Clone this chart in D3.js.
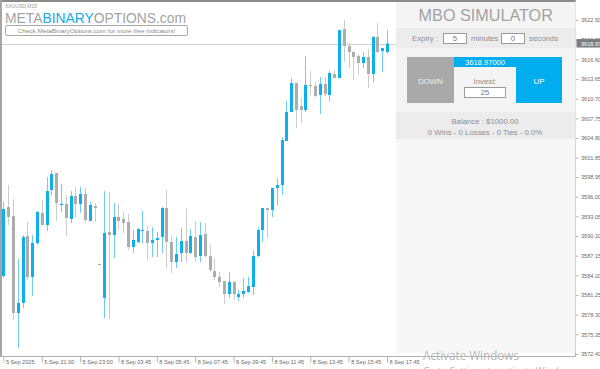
<!DOCTYPE html>
<html>
<head>
<meta charset="utf-8">
<script src="https://cdn.jsdelivr.net/npm/d3@7"></script>
<style>
  html, body { margin: 0; padding: 0; background: #fff; }
  svg { display: block; font-family: "Liberation Sans", Arial, sans-serif; }
</style>
</head>
<body>
<svg id="chart" width="600" height="369"></svg>
<script>
// XAUUSD M15 bars
const opens = [3584.10,3594.45,3593.10,3578.55,3580.05,3590.10,3583.95,3589.05,3593.55,3591.75,
  3597.00,3599.55,3594.75,3594.90,3592.65,3596.10,3594.90,3596.40,3592.35,3594.60,
  3585.90,3580.80,3590.70,3590.25,3592.95,3592.65,3592.20,3588.45,3589.20,3590.85,
  3590.85,3589.05,3589.50,3589.95,3594.30,3589.20,3586.20,3587.55,3589.35,3587.55,
  3589.95,3587.10,3590.40,3587.10,3584.85,3583.95,3583.35,3581.40,3583.20,3580.95,
  3581.40,3581.70,3582.45,3587.10,3591.00,3594.30,3594.00,3597.30,3597.75,3604.35,
  3608.70,3613.05,3609.60,3609.00,3612.75,3612.60,3611.25,3612.90,3611.25,3614.40,
  3613.80,3621.15,3618.60,3617.70,3617.10,3616.05,3616.95,3614.40,3619.95,3617.85,3617.70];
const highs = [3595.20,3597.75,3595.65,3586.65,3590.25,3592.20,3590.25,3593.85,3595.50,3598.95,
  3600.00,3599.55,3597.90,3596.25,3596.85,3597.45,3597.45,3597.30,3595.20,3595.05,
  3585.95,3596.85,3596.70,3595.05,3594.90,3593.70,3593.40,3591.00,3591.30,3593.85,
  3591.60,3591.45,3590.70,3594.45,3597.00,3590.10,3589.95,3591.30,3594.15,3591.15,
  3592.35,3592.20,3592.05,3588.75,3586.80,3584.70,3583.35,3584.70,3583.35,3582.00,
  3583.80,3583.95,3588.00,3591.45,3594.30,3594.30,3597.30,3598.80,3604.95,3610.35,
  3613.80,3613.05,3610.80,3617.10,3614.85,3613.20,3613.95,3613.95,3614.85,3615.00,
  3621.00,3622.50,3619.05,3617.85,3617.40,3617.70,3618.15,3620.10,3622.05,3618.30,3621.00];
const lows = [3583.80,3591.75,3577.50,3573.30,3579.30,3583.50,3581.10,3588.75,3591.75,3590.85,
  3596.25,3592.35,3593.70,3590.10,3592.05,3592.95,3593.55,3592.20,3592.35,3592.20,
  3585.85,3577.80,3577.65,3586.80,3591.00,3590.55,3588.00,3587.55,3589.05,3589.05,
  3586.50,3586.95,3586.95,3587.55,3585.30,3584.55,3585.30,3586.20,3586.20,3587.40,
  3586.20,3586.20,3586.95,3584.70,3583.50,3582.45,3579.90,3580.80,3580.50,3580.35,
  3580.80,3581.55,3581.25,3586.95,3589.20,3589.80,3592.95,3594.75,3596.25,3604.35,
  3608.70,3606.30,3607.05,3608.70,3611.25,3610.95,3608.40,3611.10,3610.35,3613.80,
  3613.80,3616.20,3615.30,3613.50,3614.40,3615.30,3612.30,3613.20,3617.55,3614.70,3617.40];
const closes = [3594.15,3592.95,3578.55,3580.05,3589.95,3583.95,3589.05,3593.70,3591.75,3596.85,
  3599.40,3595.05,3594.90,3592.80,3596.10,3594.90,3596.40,3592.50,3594.75,3594.30,
  3585.90,3590.55,3590.25,3592.95,3592.35,3592.05,3588.45,3589.50,3591.15,3591.00,
  3589.05,3589.50,3589.80,3594.30,3589.20,3586.20,3587.40,3589.35,3587.55,3590.10,
  3586.95,3590.25,3587.10,3585.00,3583.95,3583.20,3581.40,3583.20,3581.40,3581.40,
  3581.85,3582.60,3587.10,3591.00,3594.30,3594.00,3597.30,3597.75,3604.50,3608.70,
  3613.05,3609.00,3609.00,3612.75,3612.60,3611.10,3612.90,3611.40,3614.55,3613.80,
  3621.00,3618.60,3617.70,3616.95,3616.05,3616.95,3614.40,3619.95,3617.70,3618.30,3618.97];

const timeTickIdx = [0, 8, 16, 24, 32, 40, 48, 56, 64, 72, 80];
const timeTickLabels = ["5 Sep 2025", "5 Sep 21:00", "5 Sep 23:00", "8 Sep 03:45", "8 Sep 05:45",
  "8 Sep 07:45", "8 Sep 09:45", "8 Sep 11:45", "8 Sep 13:45", "8 Sep 15:45", "8 Sep 17:45"];
const priceTickLabels = ["3622.50", "3619.55", "3616.60", "3613.65", "3610.70", "3607.75",
  "3604.80", "3601.85", "3598.95", "3596.00", "3593.05", "3590.10", "3587.15", "3584.20",
  "3581.25", "3578.30", "3575.35", "3572.40"];
const bidPrice = 3618.97;

const bars = opens.map((o, i) => ({ i, o, h: highs[i], l: lows[i], c: closes[i] }));

const svg = d3.select("#chart");
const W = 600, H = 369;
const plotRight = 575.5, plotBottom = 356.5;

const x = d3.scaleLinear().domain([0, opens.length - 1]).range([3.4, 387]);
const y = d3.scaleLinear().domain([3572.40, 3622.50]).range([354, 20]);

const blue = "#0db0ec", blueWick = "#6fcdf2";
const grey = "#adadad", greyWick = "#cccccc";

svg.append("rect").attr("width", W).attr("height", H).attr("fill", "#fff");

// bid line behind the bars
svg.append("line")
  .attr("x1", 0).attr("x2", plotRight)
  .attr("y1", Math.round(y(bidPrice)) + 0.5).attr("y2", Math.round(y(bidPrice)) + 0.5)
  .attr("stroke", "#d2d2d2");

// candles
const candle = svg.append("g").selectAll("g").data(bars).enter().append("g");
candle.append("line")
  .attr("x1", d => Math.round(x(d.i)) + 0.5).attr("x2", d => Math.round(x(d.i)) + 0.5)
  .attr("y1", d => y(d.h)).attr("y2", d => y(d.l))
  .attr("stroke", d => d.c > d.o ? blueWick : greyWick);
candle.append("rect")
  .attr("x", d => Math.round(x(d.i)) - 1)
  .attr("y", d => y(Math.max(d.o, d.c)))
  .attr("width", 3)
  .attr("height", d => Math.max(1, Math.abs(y(d.o) - y(d.c))))
  .attr("fill", d => d.c > d.o ? blue : grey);

// frame
svg.append("rect").attr("x", 0).attr("y", 0).attr("width", plotRight).attr("height", 2).attr("fill", "#8a8a8a");
svg.append("rect").attr("x", 0).attr("y", 0).attr("width", 2).attr("height", plotBottom).attr("fill", "#a5a5a5");

// time axis
const xAxis = d3.axisBottom(x).tickValues(timeTickIdx).tickFormat((d, k) => timeTickLabels[k]).tickSize(6).tickSizeOuter(0);
const gx = svg.append("g").attr("transform", `translate(0,${plotBottom})`).call(xAxis);
gx.select(".domain").remove();
gx.selectAll(".tick line").attr("stroke", "#b5b5b5");
gx.selectAll(".tick text")
  .attr("text-anchor", "start").attr("x", 2).attr("y", 4).attr("dy", "0.71em")
  .attr("fill", "#6a6a6a").style("font-size", "5.6px").style("font-family", "Liberation Sans, Arial, sans-serif");
svg.append("line").attr("x1", 0).attr("x2", plotRight).attr("y1", plotBottom).attr("y2", plotBottom).attr("stroke", "#b0b0b0");

// price axis
const yAxis = d3.axisRight(y).tickValues(priceTickLabels.map(Number)).tickFormat((d, k) => priceTickLabels[k]).tickSize(3).tickSizeOuter(0);
const gy = svg.append("g").attr("transform", `translate(${plotRight},0)`).call(yAxis);
gy.select(".domain").remove();
gy.selectAll(".tick line").attr("stroke", "#b5b5b5");
gy.selectAll(".tick text").attr("x", 5.5).attr("fill", "#6a6a6a")
  .style("font-size", "5.6px").style("font-family", "Liberation Sans, Arial, sans-serif");
svg.append("line").attr("x1", plotRight).attr("x2", plotRight).attr("y1", 0).attr("y2", plotBottom).attr("stroke", "#b0b0b0");

// bid price box on the axis
const by = y(bidPrice);
svg.append("rect").attr("x", plotRight + 1).attr("y", by - 4.5).attr("width", 24).attr("height", 8.5).attr("fill", "#7d7d7d");
svg.append("text").attr("x", plotRight + 5.5).attr("y", by + 2).attr("fill", "#fff")
  .style("font-size", "5.6px").text(bidPrice.toFixed(2));

// header top-left
svg.append("text").attr("x", 5).attr("y", 7.5).attr("fill", "#9a9a9a").style("font-size", "5px").text("XAUUSD,M15");
const logo = svg.append("text").attr("x", 5).attr("y", 23).style("font-size", "14.5px")
  .attr("textLength", 181).attr("lengthAdjust", "spacingAndGlyphs");
logo.append("tspan").attr("fill", "#a3a3a3").text("META");
logo.append("tspan").attr("fill", "#14a9ea").text("BINARY");
logo.append("tspan").attr("fill", "#a3a3a3").text("OPTIONS.com");
svg.append("rect").attr("x", 5.5).attr("y", 25.5).attr("width", 182).attr("height", 10).attr("rx", 1.5)
  .attr("fill", "#fff").attr("stroke", "#a8a8a8");
svg.append("text").attr("x", 96.5).attr("y", 32.6).attr("text-anchor", "middle").attr("fill", "#8a8a8a")
  .style("font-size", "6px").attr("textLength", 158).attr("lengthAdjust", "spacingAndGlyphs")
  .text("Check MetaBinaryOptions.com for more free indicators!");

// simulator panel
const panel = svg.append("g");
const px = 396, pw = plotRight - 396, cx = px + pw / 2;
panel.append("rect").attr("x", px).attr("y", 2).attr("width", pw).attr("height", 351).attr("fill", "#f7f7f7");
panel.append("rect").attr("x", px).attr("y", 2).attr("width", pw).attr("height", 26).attr("fill", "#f4f4f4");
panel.append("rect").attr("x", px).attr("y", 28).attr("width", pw).attr("height", 20).attr("fill", "#ececec");
panel.append("rect").attr("x", px).attr("y", 48).attr("width", pw).attr("height", 64).attr("fill", "#f4f4f4");
panel.append("rect").attr("x", px).attr("y", 112).attr("width", pw).attr("height", 27).attr("fill", "#ececec");

const ptxt = (tx, ty, s, size, fill, anchor) => panel.append("text")
  .attr("x", tx).attr("y", ty).attr("text-anchor", anchor || "middle")
  .attr("fill", fill || "#8c8c8c").style("font-size", (size || 8) + "px").text(s);

ptxt(cx, 20.8, "MBO SIMULATOR", 16.2, "#a2a2a2");
ptxt(412, 41, "Expiry :", 7.8, "#8c8c8c", "start");
panel.append("rect").attr("x", 443.5).attr("y", 33.5).attr("width", 23).attr("height", 10).attr("fill", "#fff").attr("stroke", "#9a9a9a");
ptxt(455, 41.3, "5", 7.8, "#777");
ptxt(471, 41, "minutes", 7.8, "#8c8c8c", "start");
panel.append("rect").attr("x", 501.5).attr("y", 33.5).attr("width", 23).attr("height", 10).attr("fill", "#fff").attr("stroke", "#9a9a9a");
ptxt(513, 41.3, "0", 7.8, "#777");
ptxt(529, 41, "seconds", 7.8, "#8c8c8c", "start");

panel.append("rect").attr("x", 407).attr("y", 57).attr("width", 47).attr("height", 46).attr("fill", "#a9a9a9");
ptxt(430.5, 84, "DOWN", 7.8, "#f2f2f2");
panel.append("rect").attr("x", 516).attr("y", 57).attr("width", 46).attr("height", 46).attr("fill", "#00adef");
ptxt(539, 84, "UP", 7.8, "#ffffff");
panel.append("rect").attr("x", 454).attr("y", 57).attr("width", 62).attr("height", 10).attr("fill", "#00adef");
ptxt(485, 65, bidPrice.toFixed(5), 7.6, "#ffffff");
ptxt(485, 84, "Invest:", 7.8, "#8c8c8c");
panel.append("rect").attr("x", 464.5).attr("y", 87.5).attr("width", 41).attr("height", 10).attr("fill", "#fff").attr("stroke", "#9a9a9a");
ptxt(485, 95.3, "25", 7.8, "#777");

ptxt(485, 123.6, "Balance : $1000.00", 7.8, "#8c8c8c");
ptxt(485, 135.2, "0 Wins - 0 Losses - 0 Ties - 0.0%", 7.8, "#8c8c8c");

// windows watermark
svg.append("text").attr("x", 423).attr("y", 359.5).attr("fill", "#b4b4b4")
  .style("font-family", "Open Sans, Noto Sans, sans-serif").style("font-size", "12.5px")
  .attr("textLength", 96).attr("lengthAdjust", "spacingAndGlyphs").text("Activate Windows");
svg.append("text").attr("x", 423).attr("y", 374).attr("fill", "#b4b4b4")
  .style("font-family", "Open Sans, Noto Sans, sans-serif").style("font-size", "9.5px")
  .text("Go to Settings to activate Windows");
</script>
</body>
</html>
